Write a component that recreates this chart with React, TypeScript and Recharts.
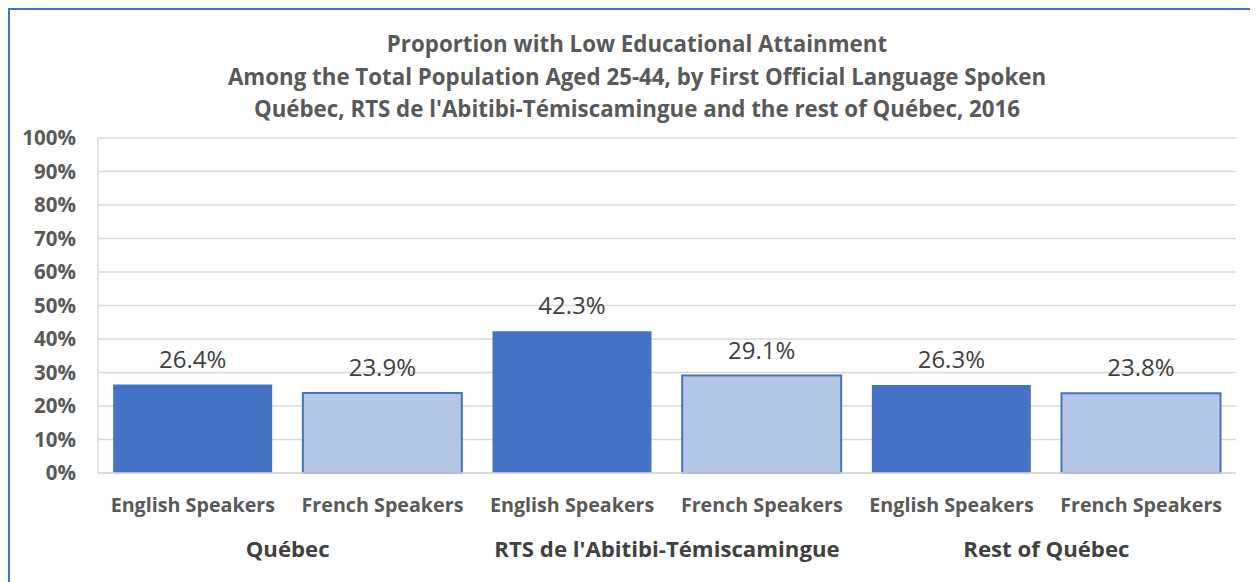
import { BarChart, Bar, XAxis, YAxis, CartesianGrid, Cell, LabelList } from "recharts";

const speakers = [
  "English Speakers",
  "French Speakers",
  "English Speakers",
  "French Speakers",
  "English Speakers",
  "French Speakers",
];
const regions = [
  "Québec",
  "Québec",
  "RTS de l'Abitibi-Témiscamingue",
  "RTS de l'Abitibi-Témiscamingue",
  "Rest of Québec",
  "Rest of Québec",
];
const values = [26.4, 23.9, 42.3, 29.1, 26.3, 23.8];
const yTicks = [0, 10, 20, 30, 40, 50, 60, 70, 80, 90, 100];
const titleLines = [
  "Proportion with Low Educational Attainment",
  "Among the Total Population Aged 25-44, by First Official Language Spoken",
  "Québec, RTS de l'Abitibi-Témiscamingue and the rest of Québec, 2016",
];

const data = speakers.map((s, i) => ({ key: `${i}`, speaker: s, region: regions[i], value: values[i] }));

const FONT = "'Open Sans', sans-serif";
const DARK = "#4472C4";
const LIGHT = "#B4C7E7";

const W = 1256;
const H = 570;
const M = { top: 128, right: 30, left: 28, bottom: 7 };
const Y_W = 60;
const bandW = (W - M.left - Y_W - M.right) / speakers.length;

const CategoryTick = (props: any) => {
  const { x, y, index } = props;
  return (
    <g>
      <text x={x} y={y + 32} dy="0.355em" textAnchor="middle" fill="#595959" fontSize={19.7} fontWeight={700} fontFamily={FONT}>
        {speakers[index]}
      </text>
      {index % 2 === 0 && (
        <text x={x + bandW / 2} y={y + 76} dy="0.355em" textAnchor="middle" fill="#404040" fontSize={22.2} fontWeight={700} fontFamily={FONT}>
          {regions[index]}
        </text>
      )}
    </g>
  );
};

export default function App() {
  return (
    <div
      style={{
        position: "relative",
        width: 1260,
        height: 580,
        border: `2px solid ${DARK}`,
        boxSizing: "border-box",
        overflow: "hidden",
        background: "#fff",
      }}
    >
      <div
        style={{
          position: "absolute",
          left: 0,
          width: 1254,
          top: 18,
          textAlign: "center",
          fontFamily: FONT,
          fontWeight: 700,
          fontSize: 22.3,
          color: "#595959",
          lineHeight: "32.5px",
        }}
      >
        {titleLines.map((t) => (
          <div key={t}>{t}</div>
        ))}
      </div>
      <BarChart width={W} height={H} data={data} margin={M} barCategoryGap="8%">
        <CartesianGrid vertical={false} stroke="#D9D9D9" strokeWidth={1.5} />
        <XAxis
          dataKey="key"
          axisLine={{ stroke: "#D9D9D9", strokeWidth: 1.5 }}
          tickLine={false}
          tickSize={0}
          tickMargin={0}
          height={100}
          interval={0}
          tick={<CategoryTick />}
        />
        <YAxis
          domain={[0, 100]}
          ticks={yTicks}
          width={Y_W}
          axisLine={{ stroke: "#D9D9D9", strokeWidth: 1.5 }}
          tickLine={false}
          tickMargin={16}
          tickFormatter={(v: number) => `${v}%`}
          tick={{ fill: "#595959", fontSize: 20.5, fontWeight: 700, fontFamily: FONT }}
        />
        <YAxis
          yAxisId="right"
          orientation="right"
          width={0}
          domain={[0, 100]}
          tick={false}
          tickLine={false}
          axisLine={{ stroke: "#D9D9D9", strokeWidth: 1.5 }}
        />
        <Bar dataKey="value" isAnimationActive={false}>
          {data.map((d, i) => (
            <Cell
              key={d.key}
              fill={i % 2 === 0 ? DARK : LIGHT}
              stroke={DARK}
              strokeWidth={i % 2 === 0 ? 0 : 2}
            />
          ))}
          <LabelList
            dataKey="value"
            position="top"
            offset={17}
            formatter={(v: number) => `${v.toFixed(1)}%`}
            fill="#404040"
            fontSize={24}
            fontFamily={FONT}
          />
        </Bar>
      </BarChart>
    </div>
  );
}
